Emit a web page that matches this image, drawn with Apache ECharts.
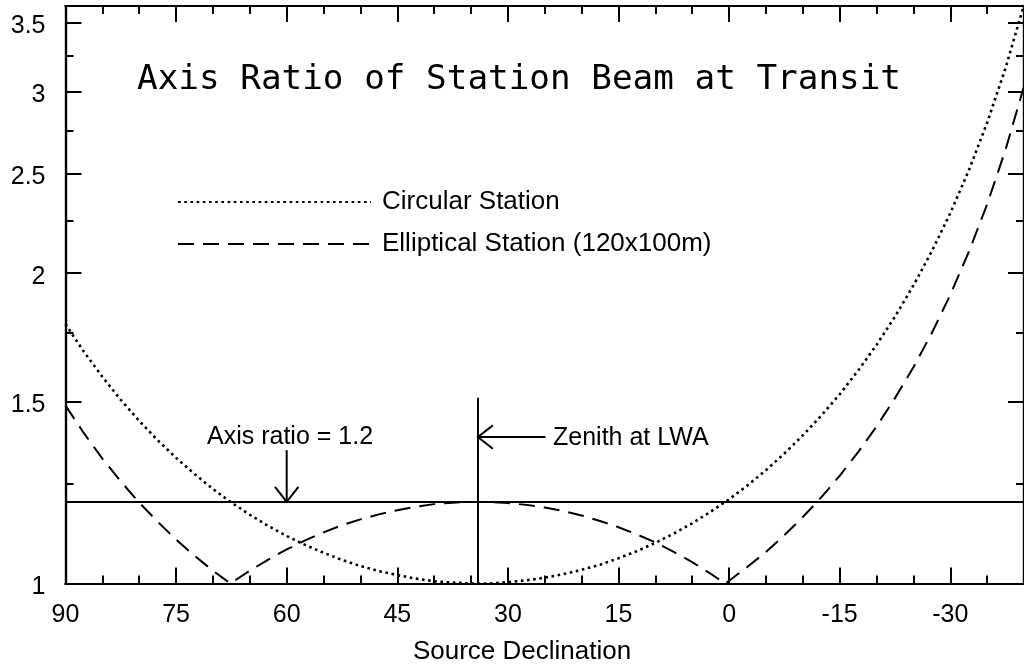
<!DOCTYPE html>
<html>
<head>
<meta charset="utf-8">
<script src="https://cdn.jsdelivr.net/npm/echarts@6/dist/echarts.min.js"></script>
<style>
html,body{margin:0;padding:0;background:#fff;}
#chart{width:1024px;height:669px;}
</style>
</head>
<body>
<div id="chart"></div>
<script>
// ---- data ----
const declination = [90, 87.5, 85, 82.5, 80, 77.5, 75, 72.5, 70, 67.63, 67.5, 65, 62.5, 60, 57.5, 55, 52.5, 50, 47.5, 45, 42.5, 40, 37.5, 35, 34.07, 32.5, 30, 27.5, 25, 22.5, 20, 17.5, 15, 12.5, 10, 7.5, 5, 2.5, 0.51, 0, -2.5, -5, -7.5, -10, -12.5, -15, -17.5, -20, -22.5, -25, -27.5, -30, -32.5, -35, -37.5, -40];
const circularRatio = [1.785, 1.678, 1.587, 1.507, 1.438, 1.377, 1.324, 1.277, 1.235, 1.200, 1.198, 1.166, 1.137, 1.112, 1.090, 1.071, 1.054, 1.040, 1.028, 1.019, 1.011, 1.005, 1.002, 1.000, 1.000, 1.000, 1.003, 1.007, 1.013, 1.021, 1.031, 1.043, 1.058, 1.075, 1.095, 1.118, 1.144, 1.174, 1.200, 1.207, 1.245, 1.288, 1.337, 1.392, 1.455, 1.526, 1.609, 1.704, 1.815, 1.946, 2.101, 2.287, 2.515, 2.799, 3.163, 3.643];
const ellipticalRatio = [1.488, 1.399, 1.322, 1.256, 1.198, 1.148, 1.103, 1.064, 1.029, 1.000, 1.002, 1.029, 1.055, 1.079, 1.101, 1.121, 1.139, 1.154, 1.167, 1.178, 1.187, 1.194, 1.198, 1.200, 1.200, 1.200, 1.197, 1.192, 1.185, 1.176, 1.164, 1.150, 1.134, 1.116, 1.096, 1.073, 1.049, 1.022, 1.000, 1.006, 1.038, 1.073, 1.114, 1.160, 1.212, 1.272, 1.341, 1.420, 1.513, 1.621, 1.750, 1.906, 2.096, 2.333, 2.636, 3.036];
const seriesNames = ['Circular Station', 'Elliptical Station (120x100m)'];

const xMajorTicks = [90, 75, 60, 45, 30, 15, 0, -15, -30];
const xMinorTicks = [90, 85, 80, 75, 70, 65, 60, 55, 50, 45, 40, 35, 30, 25, 20, 15, 10, 5, 0, -5, -10, -15, -20, -25, -30, -35, -40];
const yMajorTicks = [1, 1.5, 2, 2.5, 3, 3.5];
const yMinorTicks = [1.25, 1.75, 2.25, 2.75, 3.25];

const axisRatioLimit = 1.2;
const zenithDec = 34.07;
const zenithLineTop = 1.514;
const limitArrow = { dec: 60, from: 1.347, to: 1.2 };
const zenithArrow = { ratio: 1.387, from: 24.9, to: 34.07 };

const titleText = 'Axis Ratio of Station Beam at Transit';
const xAxisTitle = 'Source Declination';
const limitText = 'Axis ratio = 1.2';
const zenithText = 'Zenith at LWA';

// ---- chart ----
const X_MIN = -40, X_MAX = 90, Y_MIN = 1, Y_MAX = 3.633;
const BLACK = '#000';
const SANS = '"Liberation Sans", Arial, Helvetica, sans-serif';
const MONO = '"DejaVu Sans Mono", monospace';

function makeX(pos, ticks, len, labels) {
  return {
    type: 'value', min: X_MIN, max: X_MAX, inverse: true, position: pos, offset: 0,
    axisLine: { show: true, onZero: false, lineStyle: { color: BLACK, width: 2.2 } },
    axisTick: { show: true, inside: true, length: len, customValues: ticks, lineStyle: { color: BLACK, width: 2 } },
    axisLabel: { show: labels, customValues: ticks, margin: 19, color: BLACK, fontSize: 25, fontFamily: SANS },
    splitLine: { show: false }
  };
}
function makeY(pos, ticks, len, labels) {
  return {
    type: 'log', logBase: 10, min: Y_MIN, max: Y_MAX, position: pos, offset: 0,
    axisLine: { show: true, onZero: false, lineStyle: { color: BLACK, width: 2.2 } },
    axisTick: { show: true, inside: true, length: len, customValues: ticks, lineStyle: { color: BLACK, width: 2 } },
    axisLabel: { show: labels, customValues: ticks, margin: 20, color: BLACK, fontSize: 25, fontFamily: SANS,
      formatter: v => '{v|' + String(+(+v).toFixed(2)) + '}',
      rich: { v: { color: BLACK, fontSize: 25, fontFamily: SANS, padding: [7, 0, 0, 0] } } },
    splitLine: { show: false }, minorTick: { show: false }, minorSplitLine: { show: false }
  };
}

const chart = echarts.init(document.getElementById('chart'), null, { renderer: 'canvas' });

chart.setOption({
  animation: false,
  backgroundColor: '#fff',
  grid: { left: 65.5, top: 6, width: 963, height: 577.5, containLabel: false },
  xAxis: [
    makeX('bottom', xMajorTicks, 16, true),
    makeX('bottom', xMinorTicks, 8, false),
    makeX('top', xMajorTicks, 16, false),
    makeX('top', xMinorTicks, 8, false)
  ],
  yAxis: [
    makeY('left', yMajorTicks, 16, true),
    makeY('left', yMinorTicks, 8, false),
    makeY('right', yMajorTicks, 16, false),
    makeY('right', yMinorTicks, 8, false)
  ],
  legend: {
    orient: 'vertical', left: 177, top: 189, padding: 0,
    itemWidth: 193, itemHeight: 24, itemGap: 16,
    selectedMode: false,
    itemStyle: { opacity: 0 },
    textStyle: { color: BLACK, fontSize: 26, fontFamily: SANS, padding: [0, 0, 0, 6] },
    data: seriesNames
  },
  series: [
    {
      name: seriesNames[0], type: 'line', xAxisIndex: 0, yAxisIndex: 0,
      symbol: 'none', showSymbol: false, silent: true, clip: true,
      data: declination.map((d, i) => [d, circularRatio[i]]),
      itemStyle: { color: BLACK },
      lineStyle: { color: BLACK, width: 2.6, type: [2.6, 3.6], cap: 'butt' }
    },
    {
      name: seriesNames[1], type: 'line', xAxisIndex: 0, yAxisIndex: 0,
      symbol: 'none', showSymbol: false, silent: true, clip: true,
      data: declination.map((d, i) => [d, ellipticalRatio[i]]),
      itemStyle: { color: BLACK },
      lineStyle: { color: BLACK, width: 2, type: [16, 9], cap: 'butt' },
      markLine: {
        silent: true, symbol: 'none', animation: false,
        label: { show: false },
        lineStyle: { color: BLACK, width: 2, type: 'solid' },
        data: [
          { yAxis: axisRatioLimit },
          [{ coord: [zenithDec, Y_MIN] }, { coord: [zenithDec, zenithLineTop] }]
        ]
      }
    }
  ]
});

// ---- annotations placed through the chart's own scales ----
const px = (x, y) => chart.convertToPixel({ xAxisIndex: 0, yAxisIndex: 0 }, [x, y]);
function arrow(tail, tip) {
  const dx = tip[0] - tail[0], dy = tip[1] - tail[1];
  const L = Math.hypot(dx, dy), ux = dx / L, uy = dy / L;
  const a = 38 * Math.PI / 180, len = 19;
  const rot = (s) => [ux * Math.cos(s * a) - uy * Math.sin(s * a), ux * Math.sin(s * a) + uy * Math.cos(s * a)];
  const r1 = rot(1), r2 = rot(-1);
  const style = { stroke: BLACK, lineWidth: 2, fill: null };
  return [
    { type: 'line', shape: { x1: tail[0], y1: tail[1], x2: tip[0], y2: tip[1] }, style: style, silent: true },
    { type: 'polyline', shape: { points: [[tip[0] - r1[0] * len, tip[1] - r1[1] * len], tip, [tip[0] - r2[0] * len, tip[1] - r2[1] * len]] }, style: style, silent: true }
  ];
}
const la0 = px(limitArrow.dec, limitArrow.from), la1 = px(limitArrow.dec, limitArrow.to);
const za0 = px(zenithArrow.from, zenithArrow.ratio), za1 = px(zenithArrow.to, zenithArrow.ratio);

chart.setOption({
  graphic: [
    { type: 'text', left: 137, top: 63, silent: true,
      style: { text: titleText, fill: BLACK, font: '34.3px ' + MONO } },
    { type: 'text', x: 522, y: 652, silent: true,
      style: { text: xAxisTitle, fill: BLACK, font: '26px ' + SANS, align: 'center', verticalAlign: 'middle' } },
    { type: 'text', x: 207, y: 437, silent: true,
      style: { text: limitText, fill: BLACK, font: '25px ' + SANS, align: 'left', verticalAlign: 'middle' } },
    { type: 'text', x: 553, y: 438, silent: true,
      style: { text: zenithText, fill: BLACK, font: '25px ' + SANS, align: 'left', verticalAlign: 'middle' } }
  ].concat(arrow(la0, la1), arrow(za0, za1))
});
</script>
</body>
</html>
